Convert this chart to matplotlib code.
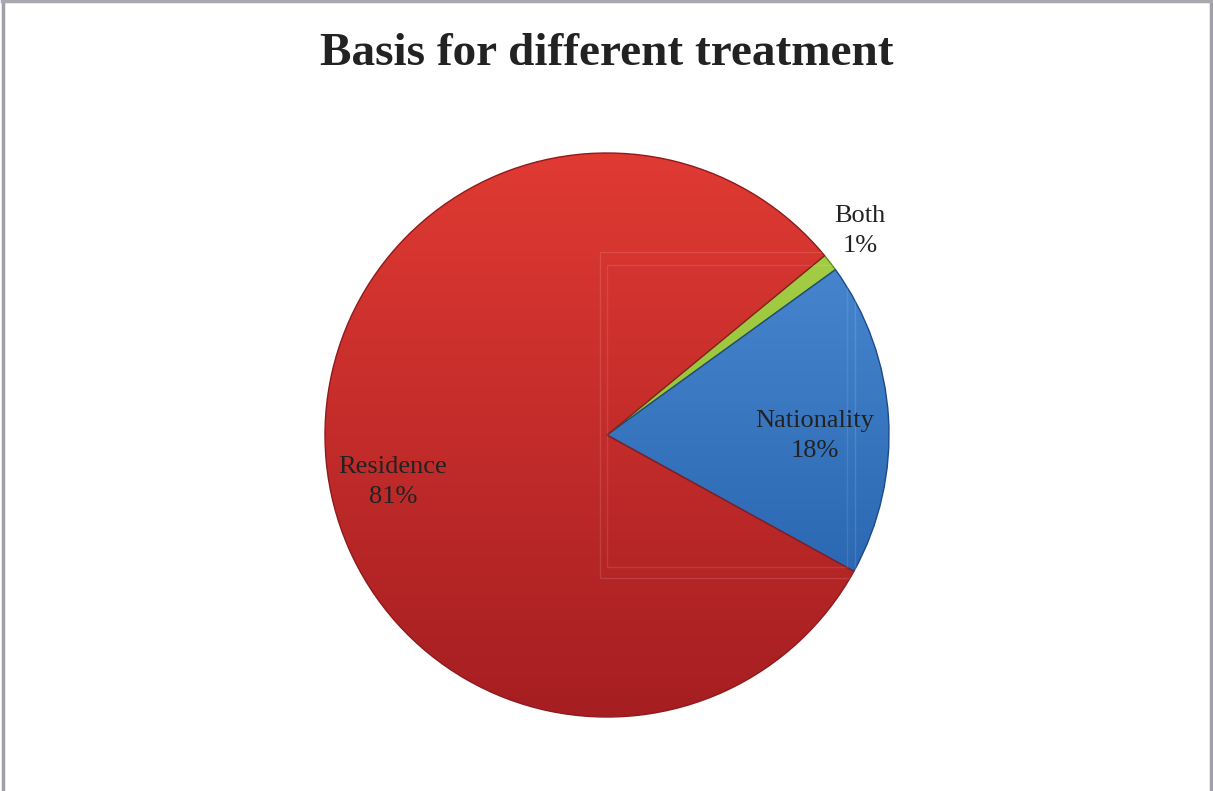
import numpy as np
import matplotlib
matplotlib.use("Agg")
import matplotlib.pyplot as plt
from matplotlib.colors import LinearSegmentedColormap
from matplotlib.patches import Rectangle

categories = ["Both", "Nationality", "Residence"]
values = [1, 18, 81]
pct_labels = ["1%", "18%", "81%"]
title = "Basis for different treatment"

W, H = 1213, 791
fig = plt.figure(figsize=(W / 100, H / 100), dpi=100)
ax = fig.add_axes([0, 0, 1, 1])

cx, cy, r = 607, H - 435, 282

grad_colors = {
    "Both": ("#a9d24a", "#86b52c"),
    "Nationality": ("#5090d8", "#1f5aa6"),
    "Residence": ("#e03a33", "#a61e22"),
}
edge_colors = {"Both": "#5f8a1c", "Nationality": "#1b4a8a", "Residence": "#8f1a1c"}

wedges, _ = ax.pie(values, startangle=39.5, counterclock=False,
                   center=(cx, cy), radius=r,
                   wedgeprops=dict(linewidth=1.0))

for w, cat in zip(wedges, categories):
    top, bot = grad_colors[cat]
    cmap = LinearSegmentedColormap.from_list(cat, [bot, top])
    grad = np.linspace(0, 1, 256).reshape(-1, 1)
    w.set_facecolor("none")
    w.set_edgecolor(edge_colors[cat])
    im = ax.imshow(grad, cmap=cmap, aspect="auto", origin="lower",
                   extent=(cx - r, cx + r, cy - r, cy + r), zorder=1)
    im.set_clip_path(w)
    w.set_zorder(2)

# faint plot-area artifact lines
ax.add_patch(Rectangle((600, H - 578), 255, 326, fill=False,
                       edgecolor="white", alpha=0.12, lw=1, zorder=3))
ax.add_patch(Rectangle((607, H - 567), 240, 302, fill=False,
                       edgecolor="white", alpha=0.10, lw=1, zorder=3))

serif = ["Liberation Serif", "DejaVu Serif"]
ax.text(607, H - 65, title, ha="center", va="baseline", fontsize=34,
        fontweight="bold", family=serif, color="#222222")

label_pos = {"Both": (860, H - 231), "Nationality": (815, H - 436),
             "Residence": (393, H - 482)}
for cat, pl in zip(categories, pct_labels):
    x, y = label_pos[cat]
    ax.text(x, y, f"{cat}\n{pl}", ha="center", va="center", fontsize=19,
            family=serif, color="#222222", linespacing=1.46, zorder=5)

ax.set_xlim(0, W)
ax.set_ylim(0, H)
ax.set_aspect("auto")
ax.axis("off")

# outer border
ax.plot([2.5, 2.5], [0, H - 1], color="#a0a0a8", lw=2.5, zorder=6)
ax.plot([W - 2, W - 2], [0, H - 1], color="#a0a0a8", lw=2.5, zorder=6)
ax.plot([2, W - 2], [H - 1, H - 1], color="#a8a8ae", lw=2.5, zorder=6)

fig.savefig("out.png", dpi=100)
